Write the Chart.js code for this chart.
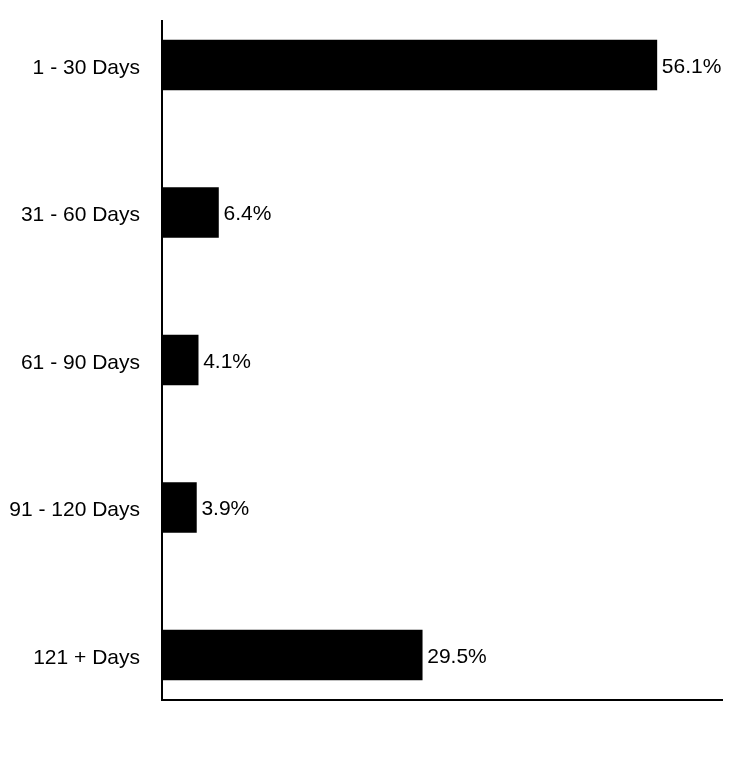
<!DOCTYPE html>
<html>
<head>
<meta charset="utf-8">
<script src="https://cdn.jsdelivr.net/npm/chart.js@4/dist/chart.umd.min.js"></script>
<style>
  body { margin: 0; background: #fff; }
  canvas { display: block; }
</style>
</head>
<body>
<canvas id="aging-chart" width="744" height="780"></canvas>
<script>
// aging buckets (percent of total)
const categories = ['1 - 30 Days', '31 - 60 Days', '61 - 90 Days', '91 - 120 Days', '121 + Days']
const shares = [56.1, 6.4, 4.1, 3.9, 29.5]
const axisMax = 63.6

// axis lines stretch past the bars like in the original
const axisLines = {
  id: 'axisLines',
  afterDraw(chart) {
    const { ctx, chartArea } = chart
    ctx.save()
    ctx.strokeStyle = '#000'
    ctx.lineWidth = 2
    ctx.beginPath()
    ctx.moveTo(chartArea.left, chartArea.top - 45)
    ctx.lineTo(chartArea.left, chartArea.bottom + 45)
    ctx.lineTo(chartArea.right, chartArea.bottom + 45)
    ctx.stroke()
    ctx.restore()
  },
}

// percent labels at the end of each bar
const valueLabels = {
  id: 'valueLabels',
  afterDatasetsDraw(chart) {
    const { ctx } = chart
    const meta = chart.getDatasetMeta(0)
    ctx.save()
    ctx.fillStyle = '#000'
    ctx.font = '21px "Liberation Sans", Arial, sans-serif'
    ctx.textAlign = 'left'
    ctx.textBaseline = 'middle'
    meta.data.forEach(function (bar, i) {
      ctx.fillText(shares[i].toFixed(1) + '%', bar.x + 5, bar.y + 2)
    })
    ctx.restore()
  },
}

const ctx = document.getElementById('aging-chart').getContext('2d')

const agingChart = new Chart(ctx, {
  type: 'bar',
  data: {
    labels: categories,
    datasets: [
      {
        data: shares,
        backgroundColor: '#000',
        borderWidth: 0,
        barThickness: 50,
        clip: false,
      },
    ],
  },
  options: {
    indexAxis: 'y',
    responsive: false,
    animation: false,
    devicePixelRatio: 1,
    layout: {
      padding: { top: 65, bottom: 125, right: 21, left: 0 },
    },
    scales: {
      x: {
        display: false,
        min: 0,
        max: axisMax,
      },
      y: {
        offset: false,
        grid: { display: false, drawTicks: false },
        border: { display: false },
        ticks: {
          color: '#000',
          padding: 22,
          labelOffset: 3,
          font: { family: '"Liberation Sans", Arial, sans-serif', size: 21 },
        },
        afterFit(scale) {
          scale.width = 162
        },
      },
    },
    plugins: {
      legend: { display: false },
      tooltip: { enabled: false },
    },
  },
  plugins: [axisLines, valueLabels],
})
</script>
</body>
</html>
